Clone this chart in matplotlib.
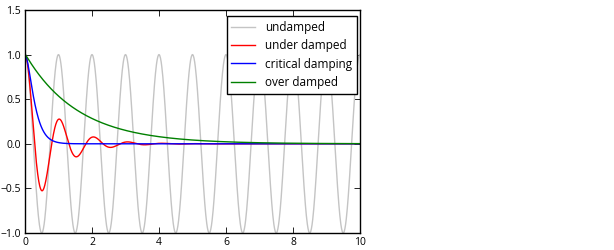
import numpy as np
import matplotlib
matplotlib.use('Agg')
import matplotlib.pyplot as plt

# oscillator parameters (period 1 -> omega = 2*pi)
labels = ['undamped', 'under damped', 'critical damping', 'over damped']
zetas = [0.0, 0.2, 1.0, 5.0]
colors = ['#c4c4c4', 'red', 'blue', 'green']
omega = 2 * np.pi
t_max = 10

y_ticks = [-1.0, -0.5, 0.0, 0.5, 1.0, 1.5]
x_ticks = [0, 2, 4, 6, 8, 10]


def response(t, zeta, w):
    # x(0)=1, x'(0)=0
    if zeta == 0:
        return np.cos(w * t)
    if zeta < 1:
        s = zeta * w
        wd = w * np.sqrt(1 - zeta ** 2)
        return np.exp(-s * t) * (np.cos(wd * t) + s / wd * np.sin(wd * t))
    if zeta == 1:
        return (1 + w * t) * np.exp(-w * t)
    r1 = -w * (zeta - np.sqrt(zeta ** 2 - 1))
    r2 = -w * (zeta + np.sqrt(zeta ** 2 - 1))
    return (r2 * np.exp(r1 * t) - r1 * np.exp(r2 * t)) / (r2 - r1)


plt.rcParams['font.family'] = ['Open Sans', 'DejaVu Sans']

fig = plt.figure(figsize=(6.14, 2.5), dpi=100)
ax = fig.add_axes([0.0407, 0.068, 0.5456, 0.892])

t = np.linspace(0, t_max, 1000)
for lab, z, c in zip(labels, zetas, colors):
    ax.plot(t, response(t, z, omega), color=c, lw=1, label=lab)

ax.set_xlim(0, t_max)
ax.set_ylim(-1.0, 1.5)
ax.set_xticks(x_ticks)
ax.set_yticks(y_ticks)
ax.tick_params(direction='in', top=True, right=True, length=4, width=0.6,
               labelsize=7.5, pad=3)
for sp in ax.spines.values():
    sp.set_linewidth(1)

leg = ax.legend(loc='upper right', fontsize=8.5, fancybox=False, framealpha=1,
                edgecolor='black', bbox_to_anchor=(0.992, 0.972),
                borderaxespad=0, borderpad=0.4, handlelength=2.0,
                handletextpad=0.9, labelspacing=0.45)
leg.get_frame().set_linewidth(1)

fig.savefig('out.png', dpi=100)
